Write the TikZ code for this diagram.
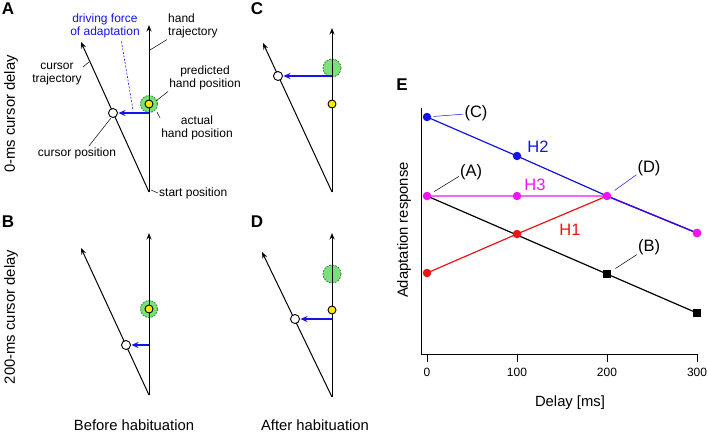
\documentclass[tikz,border=0pt]{standalone}
\usepackage{fontspec}
\setmainfont{Liberation Sans}
\usetikzlibrary{arrows.meta}
\begin{document}
\begin{tikzpicture}[x=1pt,y=-1pt,
    traj/.style={line width=1pt, -{Stealth[length=6.5pt,width=5pt]}},
    push/.style={myblue, line width=1.4pt, -{Stealth[length=7pt,width=6pt]}, shorten >=0.5pt},
    lead/.style={line width=0.5pt},
    cpos/.style={circle, draw, fill=white, line width=0.9pt, minimum size=9pt, inner sep=0pt},
    hpos/.style={circle, draw, fill=myyellow, line width=0.9pt, minimum size=8pt, inner sep=0pt},
    pred/.style={circle, draw=mygreen!55!black, dashed, dash pattern=on 1.8pt off 1.2pt, line width=0.8pt, fill=mygreen, minimum size=17pt, inner sep=0pt},
    note/.style={font=\fontsize{12}{13.5}\selectfont, align=center, inner sep=1pt},
    big/.style={font=\fontsize{14.8}{16}\selectfont, inner sep=1pt},
    tag/.style={font=\fontsize{16.5}{18}\selectfont, inner sep=1pt},
    letter/.style={font=\fontsize{17}{17}\selectfont\bfseries, inner sep=0pt},
    tick/.style={font=\fontsize{12}{12}\selectfont, inner sep=0pt},
    dot/.style={circle, inner sep=0pt, minimum size=8.5pt},
    sqr/.style={rectangle, fill=black, inner sep=0pt, minimum size=8pt},
    curve/.style={line width=1.2pt}]
    \definecolor{myblue}{RGB}{20,20,230}
    \definecolor{myred}{RGB}{235,20,20}
    \definecolor{mymag}{RGB}{240,20,240}
    \definecolor{mygreen}{RGB}{120,225,120}
    \definecolor{myyellow}{RGB}{255,235,0}

    \useasboundingbox (0,0) rectangle (708,434);

    % row and column titles
    \node[letter] (lA) at (8,9) {A};
    \node[letter] (lB) at (8,222) {B};
    \node[letter] (lC) at (257,9) {C};
    \node[letter] (lD) at (257,222) {D};
    \node[letter] (lE) at (402,85) {E};
    \node[big, rotate=90] (row1) at (11,114) {0-ms cursor delay};
    \node[big, rotate=90] (row2) at (11,317) {200-ms cursor delay};
    \node[big] (col1) at (134,425) {Before habituation};
    \node[big] (col2) at (315,425) {After habituation};

    % A: 0-ms delay, before habituation
    \coordinate (As) at (149,192);
    \coordinate (Ah) at (149,25);
    \coordinate (Ac) at (81,42);
    \coordinate (Aa) at (149,113);
    \node[pred] (Ag) at (149,104) {};
    \draw[traj] (As) -- (Ah);
    \draw[traj] (As) -- (Ac);
    \node[cpos] (Ap) at (113,113) {};
    \draw[push] (Aa) -- (Ap);
    \node[hpos] (Ay) at (149,104) {};

    \node[note, text=myblue] (drvtxt) at (105,26) {driving force\\of adaptation};
    \node[note, align=left, anchor=west] (handtxt) at (167,26) {hand\\trajectory};
    \node[note] (curtxt) at (57,74) {cursor\\trajectory};
    \node[note] (predtxt) at (205,78) {predicted\\hand position};
    \node[note] (acttxt) at (197,128) {actual\\hand position};
    \node[note] (cpostxt) at (77,153) {cursor position};
    \node[note, anchor=west] (starttxt) at (158,193) {start position};

    \coordinate (dl) at (133,110);
    \coordinate (hl) at (150,50);
    \coordinate (ctl) at (89,62);
    \coordinate (pl) at (156,101);
    \coordinate (al) at (157,112);
    \coordinate (cpl) at (111,118);
    \coordinate (sl) at (151,190);
    \draw[myblue, line width=0.6pt, dash pattern=on 2pt off 1.5pt, shorten <=2pt] (drvtxt.320) -- (dl);
    \draw[lead] (handtxt.south west) -- (hl);
    \draw[lead] (curtxt.15) -- (ctl);
    \draw[lead] (predtxt.200) -- (pl);
    \draw[lead] (acttxt.165) -- (al);
    \draw[lead] (cpostxt.30) -- (cpl);
    \draw[lead] (starttxt.west) -- (sl);

    % B: 200-ms delay, before habituation
    \coordinate (Bs) at (149,395);
    \coordinate (Bh) at (149,233);
    \coordinate (Bc) at (81,248);
    \coordinate (Ba) at (149,345);
    \node[pred] (Bg) at (149,309) {};
    \draw[traj] (Bs) -- (Bh);
    \draw[traj] (Bs) -- (Bc);
    \node[cpos] (Bp) at (126,345) {};
    \draw[push] (Ba) -- (Bp);
    \node[hpos] (By) at (149,309) {};

    % C: 0-ms delay, after habituation
    \coordinate (Cs) at (332,192);
    \coordinate (Ch) at (332,28);
    \coordinate (Cc) at (263,43);
    \coordinate (Ca) at (332,76);
    \node[pred, minimum size=18pt] (Cg) at (332,68) {};
    \draw[traj] (Cs) -- (Ch);
    \draw[traj] (Cs) -- (Cc);
    \node[cpos] (Cp) at (278,76) {};
    \draw[push] (Ca) -- (Cp);
    \node[hpos] (Cy) at (332,104) {};

    % D: 200-ms delay, after habituation
    \coordinate (Ds) at (332,397);
    \coordinate (Dh) at (332,233);
    \coordinate (Dc) at (262,252);
    \coordinate (Da) at (332,319);
    \node[pred, minimum size=18pt] (Dg) at (332,274) {};
    \draw[traj] (Ds) -- (Dh);
    \draw[traj] (Ds) -- (Dc);
    \node[cpos] (Dp) at (295,319) {};
    \draw[push] (Da) -- (Dp);
    \node[hpos] (Dy) at (332,310) {};

    % E: adaptation vs delay
    \coordinate (o) at (421,354);
    \coordinate (ytop) at (421,108);
    \coordinate (xend) at (698,354);
    \draw[line width=1pt] (ytop) -- (o) -- (xend);
    \foreach \d [count=\i from 0] in {0,100,200,300} {
        \coordinate (t\i) at (427+0.9*\d,354);
        \draw[line width=0.8pt] (t\i) -- ++(0,8);
        \node[tick] (tl\i) at (427+0.9*\d,372) {\d};
    }
    \node[big] (xlab) at (570,403) {Delay [ms]};
    \node[big, rotate=90] (ylab) at (404,230) {Adaptation response};

    \coordinate (k0) at (427,196); \coordinate (k1) at (517,235);
    \coordinate (k2) at (607,274); \coordinate (k3) at (697,313);
    \coordinate (r0) at (427,273); \coordinate (r1) at (517,234);
    \coordinate (r2) at (607,196); \coordinate (r3) at (697,233);
    \coordinate (m0) at (427,196); \coordinate (m1) at (517,196);
    \coordinate (m2) at (607,196); \coordinate (m3) at (697,233);
    \coordinate (b0) at (427,117); \coordinate (b1) at (517,156);
    \coordinate (b2) at (607,196); \coordinate (b3) at (697,233);

    \draw[curve] (k0) -- (k1) -- (k2) -- (k3);
    \draw[curve, myred] (r0) -- (r1) -- (r2);
    \draw[curve, myred, yshift=-1.8pt] (r2) -- (r3);
    \draw[curve, mymag] (m0) -- (m1) -- (m2) -- (m3);
    \draw[curve, myblue] (b0) -- (b1) -- (b2);
    \draw[curve, myblue, yshift=1.8pt] (b2) -- (b3);

    \node[sqr] (mk2) at (k2) {};
    \node[sqr] (mk3) at (k3) {};
    \foreach \p in {r0,r1,r3} \node[dot, fill=myred] (n\p) at (\p) {};
    \foreach \p in {b0,b1} \node[dot, fill=myblue] (n\p) at (\p) {};
    \foreach \p in {m0,m1,m2,m3} \node[dot, fill=mymag] (n\p) at (\p) {};

    \node[tag, text=myblue] (h2) at (538,147) {H2};
    \node[tag, text=mymag] (h3) at (535,185) {H3};
    \node[tag, text=myred] (h1) at (570,230) {H1};
    \node[tag] (labC) at (476,113) {(C)};
    \node[tag] (labA) at (471,172) {(A)};
    \node[tag] (labD) at (649,168) {(D)};
    \node[tag] (labB) at (649,247) {(B)};
    \draw[lead, myblue, shorten >=2pt] (labC.185) -- (nb0);
    \draw[lead, shorten >=4pt] (labA.200) -- (nm0);
    \draw[lead, myblue, shorten >=5pt] (labD.208) -- (nm2);
    \draw[lead, shorten >=5pt] (labB.212) -- (mk2);
\end{tikzpicture}
\end{document}
